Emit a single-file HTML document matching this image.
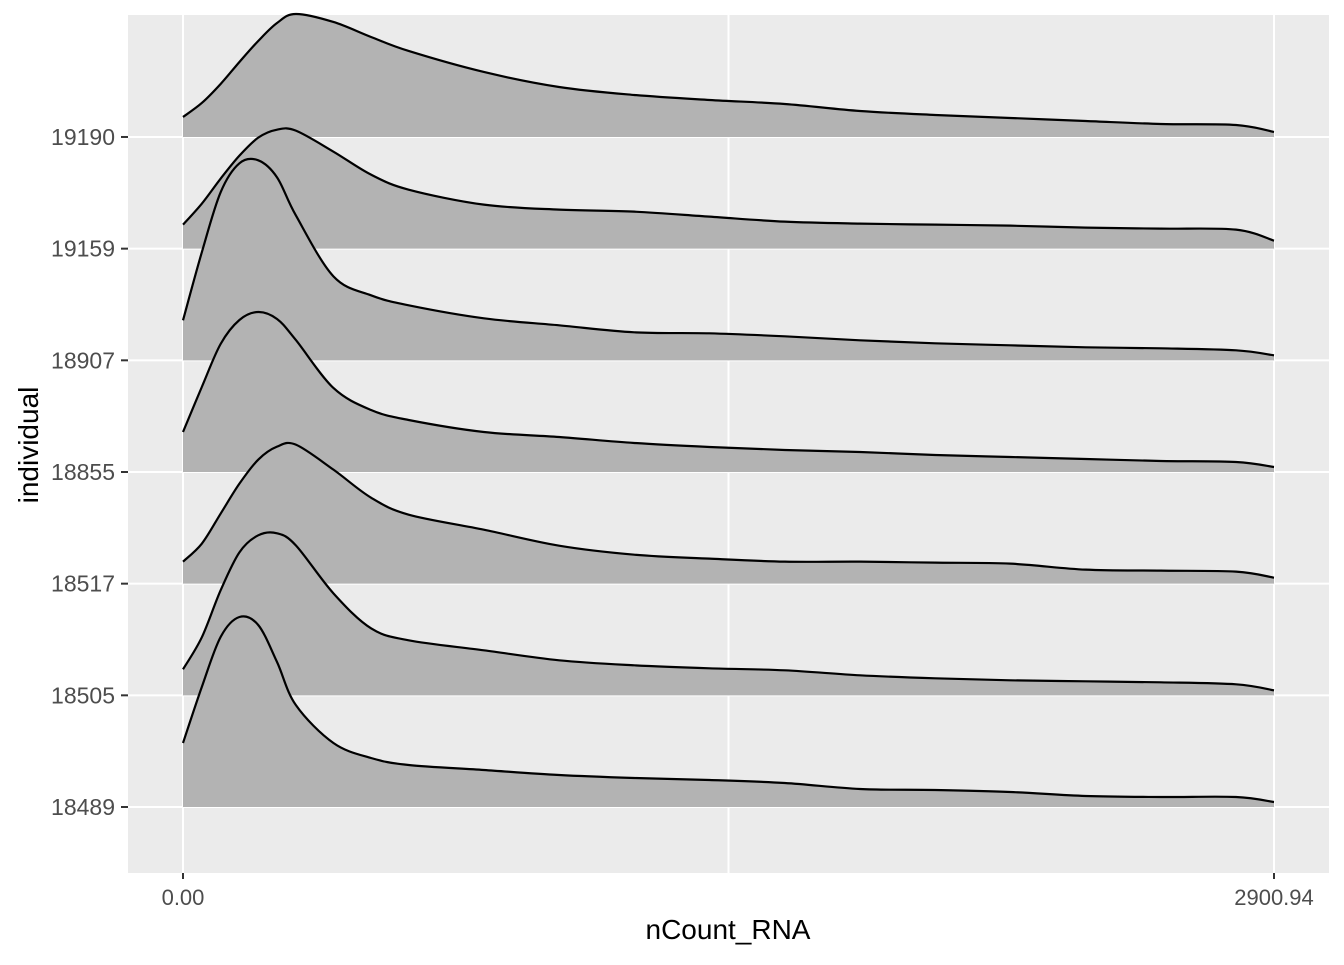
<!DOCTYPE html>
<html><head><meta charset="utf-8"><style>
body{margin:0;background:#fff}
svg text{font-family:"Liberation Sans",sans-serif}
</style></head><body>
<svg id="chart" width="1344" height="960">
<rect x="128" y="15" width="1201" height="858" fill="#ebebeb"/>
<g id="grid"></g><g id="ridges"></g><g id="axes"></g>
<text x="728" y="939" font-size="28" text-anchor="middle" fill="#000">nCount_RNA</text>
<text transform="translate(38,445) rotate(-90)" font-size="28" text-anchor="middle" fill="#000">individual</text>
</svg>
<script>
const categories=["18489","18505","18517","18855","18907","19159","19190"];
const xGrid=[0,50,100,150,200,250,300,400,500,600,800,1000,1200,1400,1600,1800,2000,2200,2400,2600,2800,2900.94];
const d18489=[64,120,170,190,182,145,102,64,49,42,37,32,29,27,24,18,17,15,11,10,10,5];
const d18505=[26,58,105,143,160,162,150,102,67,55,45,35,30,27,25,20,17,15,14,13,11,5];
const d18517=[22,40,70,100,124,137,139,114,86,69,54,38,29,25,22,22,21,20,14,13,12,6];
const d18855=[40,85,128,152,160,153,132,84,62,52,40,35,29,25,22,20,17,15,13,11,10,5];
const d18907=[40,108,168,197,200,183,145,84,65,55,42,35,28,27,24,20,17,15,13,12,10,5];
const d19159=[24,45,70,93,111,119,118,97,74,59,44,39,37,32,27,25,24,23,21,20,19,8];
const d19190=[20,34,53,75,96,114,123,115,100,86,65,50,42,37,33,26,22,19,16,13,12,5];
const densities=[d18489,d18505,d18517,d18855,d18907,d19159,d19190];
const xTicks=[0,1450.47,2900.94];
const xTickLabels=["0.00","","2900.94"];
const NS="http://www.w3.org/2000/svg";
const xMax=2900.94;
const x=v=>183+(v/xMax)*1091;
const y=i=>807-i*111.67;
const h=v=>v;
function mk(t,a,p){const e=document.createElementNS(NS,t);for(const k in a)e.setAttribute(k,a[k]);p.appendChild(e);return e;}
const grid=document.getElementById('grid'),ridges=document.getElementById('ridges'),axes=document.getElementById('axes');
xTicks.forEach((t,i)=>{
 const l=mk('line',{x1:x(t),x2:x(t),y1:15,y2:873,stroke:'#fff','stroke-width':2},grid);
 
 
 if(xTickLabels[i]){
 const tk=mk('line',{x1:x(t),x2:x(t),y1:873,y2:879,stroke:'#333','stroke-width':2},axes);
 
 
 const tx=mk('text',{x:x(t),y:905,'font-size':22,'text-anchor':'middle',fill:'#4d4d4d'},axes);tx.textContent=xTickLabels[i];
 
 }
});
categories.forEach((c,i)=>{
 const l=mk('line',{x1:128,x2:1329,y1:y(i),y2:y(i),stroke:'#fff','stroke-width':2},grid);
 
 
 const tk=mk('line',{x1:121,x2:128,y1:y(i),y2:y(i),stroke:'#333','stroke-width':2},axes);
 
 
 const tx=mk('text',{x:115,y:y(i)+8,'font-size':23,'text-anchor':'end',fill:'#4d4d4d'},axes);tx.textContent=c;
 
 
});
function smooth(pts){let d=`M${pts[0][0]},${pts[0][1]}`;
 for(let i=0;i<pts.length-1;i++){const p0=pts[Math.max(0,i-1)],p1=pts[i],p2=pts[i+1],p3=pts[Math.min(pts.length-1,i+2)];
  d+=` C${p1[0]+(p2[0]-p0[0])/6},${p1[1]+(p2[1]-p0[1])/6} ${p2[0]-(p3[0]-p1[0])/6},${p2[1]-(p3[1]-p1[1])/6} ${p2[0]},${p2[1]}`;}
 return d;}
for(let i=categories.length-1;i>=0;i--){
 const b=y(i);const pts=xGrid.map((v,j)=>[x(v),b-h(densities[i][j])]);
 const line=smooth(pts);
 const g=mk('g',{},ridges);
 
 
 mk('path',{d:line+` L${x(xMax)},${b} L${x(0)},${b} Z`,fill:'#b3b3b3'},g);
 mk('path',{d:line,fill:'none',stroke:'#000','stroke-width':2.2,'stroke-linejoin':'round'},g);
}
</script>
</body></html>
